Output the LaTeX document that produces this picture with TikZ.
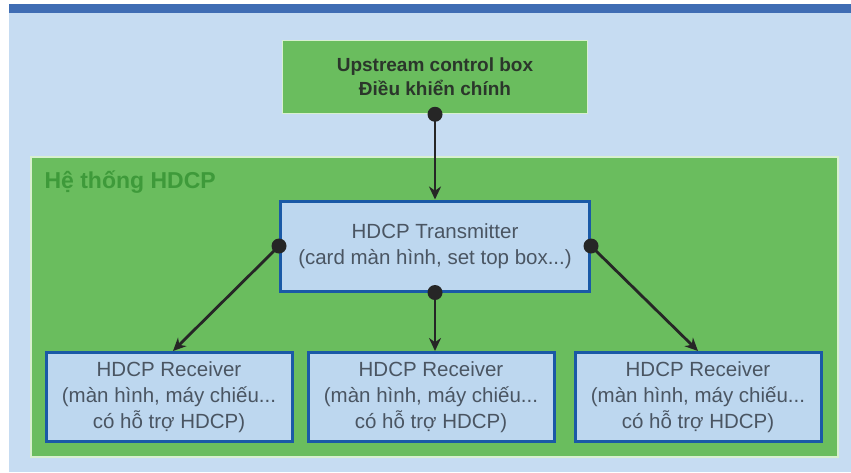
\documentclass[tikz,border=0pt]{standalone}
\usepackage{fontspec}
\setmainfont{Liberation Sans}
\usetikzlibrary{arrows.meta}
\definecolor{panelbg}{HTML}{C6DCF2}
\definecolor{bandblue}{HTML}{3F6DB4}
\definecolor{zonegreen}{HTML}{6ABD5E}
\definecolor{zoneedge}{HTML}{D8F0D0}
\definecolor{boxfill}{HTML}{BDD7EF}
\definecolor{boxedge}{HTML}{1A59A6}
\definecolor{boxtext}{HTML}{4A5562}
\definecolor{titlegreen}{HTML}{3E9A3A}
\definecolor{ctrltext}{HTML}{2B362B}
\tikzset{
  x=1pt, y=-1pt,
  devbox/.style={draw=boxedge, line width=3pt, fill=boxfill, text=boxtext,
    align=center, font=\fontsize{20.5}{26}\selectfont, inner sep=0pt},
  ctrlbox/.style={draw=zoneedge, line width=1.5pt, fill=zonegreen, text=ctrltext,
    align=center, font=\bfseries\fontsize{19}{24}\selectfont, inner sep=0pt},
  link/.style={line width=2.8pt, draw=black!85, -{Stealth[length=13pt,width=12pt]}},
  dotmark/.style={circle, fill=black!85, minimum size=15pt, inner sep=0pt}
}
\begin{document}
\begin{tikzpicture}
% page and panel
\useasboundingbox (0,0) rectangle (851,472);
\fill[white] (0,0) rectangle (851,472);
\fill[panelbg] (9,13) rectangle (851,472);
\fill[bandblue] (9,4) rectangle (851,13);
% system zone
\draw[draw=zoneedge, line width=1.5pt, fill=zonegreen] (31,157) rectangle (838,457);
\node[anchor=west, text=titlegreen, font=\bfseries\fontsize{23}{26}\selectfont] (zt) at (41,182) {Hệ thống HDCP};
% boxes
\node[ctrlbox, minimum width=305pt, minimum height=73pt] (up) at (435,77)
  {Upstream control box\\Điều khiển chính};
\node[devbox, minimum width=309pt, minimum height=90pt] (tx) at (435,246)
  {HDCP Transmitter\\(card màn hình, set top box...)};
\node[devbox, minimum width=246pt, minimum height=89pt] (r1) at (169,397)
  {HDCP Receiver\\(màn hình, máy chiếu...\\có hỗ trợ HDCP)};
\node[devbox, minimum width=246pt, minimum height=89pt] (r2) at (431,397)
  {HDCP Receiver\\(màn hình, máy chiếu...\\có hỗ trợ HDCP)};
\node[devbox, minimum width=246pt, minimum height=89pt] (r3) at (698,397)
  {HDCP Receiver\\(màn hình, máy chiếu...\\có hỗ trợ HDCP)};
% connectors
\node[dotmark] (d0) at (up.south) {};
\node[dotmark] (d1) at (tx.west) {};
\node[dotmark] (d2) at (tx.south) {};
\node[dotmark] (d3) at (tx.east) {};
\draw[link] (d0.center) -- (tx.north);
\draw[link] (d1.center) -- ([xshift=4pt]r1.north);
\draw[link] (d2.center) -- (d2.center |- r2.north);
\draw[link] (d3.center) -- (r3.north);
\end{tikzpicture}
\end{document}
